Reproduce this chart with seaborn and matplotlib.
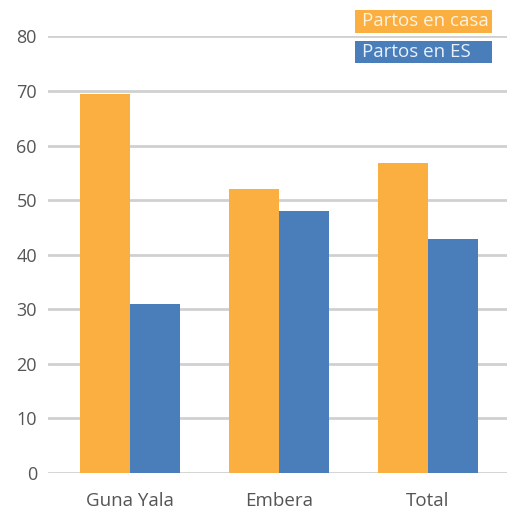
import pandas as pd
import numpy as np
import seaborn as sns
import matplotlib.pyplot as plt
from matplotlib.patches import Rectangle

# data
regions = ["Guna Yala", "Embera", "Total"]
casa = [69.4, 52.1, 56.9]
es = [31.0, 48.1, 42.8]
series = ["Partos en casa", "Partos en ES"]
colors = ["#FBAF41", "#4A7EBB"]

df = pd.DataFrame({
    "region": regions * 2,
    "valor": casa + es,
    "serie": [series[0]] * 3 + [series[1]] * 3,
})

sns.set_style("white")
plt.rcParams['font.family'] = ['Open Sans', 'DejaVu Sans']

W, H = 507, 512
fig = plt.figure(figsize=(W / 100, H / 100), dpi=100)
ax = fig.add_axes([48 / W, 1 - 473 / H, 459 / W, (473 - 37) / H + 0.001])

sns.barplot(data=df, x="region", y="valor", hue="serie", palette=colors,
            width=0.667, gap=0, saturation=1, ax=ax, legend=False, zorder=3,
            linewidth=0, edgecolor="none")

ax.set_ylim(0, 80)
ax.set_xlim(-0.55, 2.53)
ax.set_yticks(np.arange(0, 81, 10))
ax.yaxis.grid(True, color="#D0D0D0", linewidth=2)
ax.set_axisbelow(True)
for s in ax.spines.values():
    s.set_visible(False)
ax.set_xlabel("")
ax.set_ylabel("")
ax.tick_params(axis="y", length=0, pad=8, labelsize=13, labelcolor="#555555")
ax.tick_params(axis="x", length=0, pad=14, labelsize=13.5, labelcolor="#555555")

# legend: fixed-size colored boxes with light text
text_cols = ["#FFF3DC", "#E8F0FA"]
box_top = [10, 41]
box_h = [23, 22]
for lbl, c, tc, top, h in zip(series, colors, text_cols, box_top, box_h):
    fig.patches.append(Rectangle((355 / W, 1 - (top + h) / H), 137 / W, h / H,
                                 transform=fig.transFigure, fc=c, ec="none", zorder=5))
    fig.text(362 / W, 1 - (top + h / 2) / H, lbl, color=tc, fontsize=13.5,
             va="center", ha="left", zorder=6)

fig.savefig("out.png", dpi=100)
